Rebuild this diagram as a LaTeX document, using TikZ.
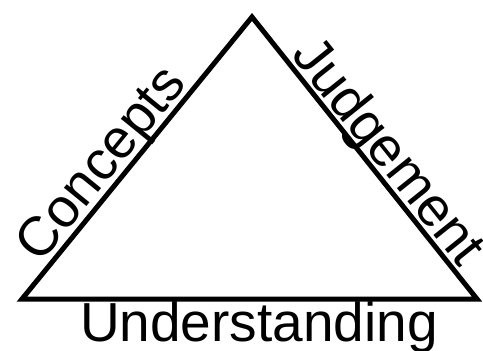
\documentclass[tikz,border=0pt]{standalone}
\usepackage{fontspec}
\setmainfont{Liberation Sans}
\begin{document}
\begin{tikzpicture}[x=1pt,y=-1pt,
  side/.style={line width=5pt,line join=miter,draw=black},
  lbl/.style={font=\fontsize{55}{60}\selectfont,inner sep=0pt,anchor=base}]
\useasboundingbox (0,0) rectangle (483,351);
\coordinate (L) at (22,299);
\coordinate (T) at (252,17);
\coordinate (R) at (477,299);
\draw[side] (L) -- (T) -- (R) -- cycle;
\node[lbl,rotate=50.8] (concepts) at (114,174) {Concepts};
\node[lbl,rotate=-51.3] (judgement) at (375.5,162) {Judgement};
\node[lbl] (understanding) at (259,341) {Understanding};
\end{tikzpicture}
\end{document}
